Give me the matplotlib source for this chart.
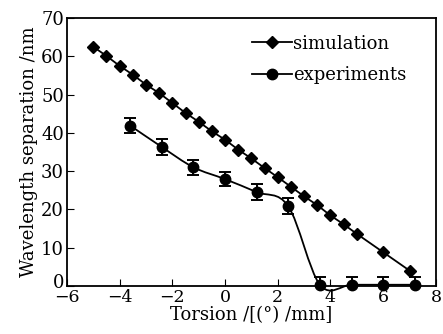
import numpy as np
import matplotlib

matplotlib.use("Agg")
import matplotlib.pyplot as plt
import matplotlib.transforms as mtransforms
from matplotlib.path import Path
from matplotlib.patches import PathPatch

# simulation (diamonds)
sim_x = [-5, -4.5, -4, -3.5, -3, -2.5, -2, -1.5, -1, -0.5, 0, 0.5, 1, 1.5,
         2, 2.5, 3, 3.5, 4, 4.5, 5, 6, 7]
sim_y = [62.5, 60.1, 57.5, 55.2, 52.6, 50.4, 47.8, 45.2, 42.9, 40.4, 38.2,
         35.6, 33.3, 30.8, 28.4, 25.9, 23.4, 21.1, 18.4, 16.1, 13.6, 8.8, 4.0]

# experiments (circles, with error bars)
exp_x = [-3.6, -2.4, -1.2, 0, 1.2, 2.4, 3.6, 4.8, 6.0, 7.2]
exp_y = [41.9, 36.3, 31.0, 27.9, 24.5, 20.8, 0.3, 0.3, 0.3, 0.3]
exp_err = [2.0, 2.0, 2.0, 1.9, 2.0, 2.1, 2.0, 2.0, 2.0, 2.0]


def smooth_path(x, y):
    # Catmull-Rom style bezier smoothing, like a spreadsheet "smoothed line"
    pts = np.column_stack([x, y]).astype(float)
    verts = [pts[0]]
    codes = [Path.MOVETO]
    n = len(pts)
    for i in range(n - 1):
        p0 = pts[i - 1] if i > 0 else pts[i]
        p1, p2 = pts[i], pts[i + 1]
        p3 = pts[i + 2] if i + 2 < n else pts[i + 1]
        verts += [p1 + (p2 - p0) / 6, p2 - (p3 - p1) / 6, p2]
        codes += [Path.CURVE4] * 3
    return Path(verts, codes)


plt.rcParams["font.family"] = "DejaVu Serif"

fig = plt.figure(figsize=(4.43, 3.34), dpi=100)
ax = fig.add_axes([0.151, 0.144, 0.833, 0.802])

ax.plot(sim_x, sim_y, color="black", lw=1.3, marker="D", ms=6.5,
        label="simulation")

ax.add_patch(PathPatch(smooth_path(exp_x, exp_y), fill=False,
                       edgecolor="black", lw=1.3, clip_on=False))
ax.errorbar(exp_x, exp_y, yerr=exp_err, fmt="none", ecolor="black",
            capsize=4.5, elinewidth=1.4, capthick=1.4)
ax.plot(exp_x, exp_y, ls="none", marker="o", color="black", ms=7.5,
        clip_on=False, zorder=4)
# legend handle for experiments (line + circle)
ax.plot([], [], color="black", lw=1.3, marker="o", ms=7.5,
        label="experiments")

ax.set_xlim(-6, 8)
ax.set_ylim(0, 70)
ax.set_xticks(range(-6, 9, 2))
ax.set_yticks(range(0, 71, 10))
ax.set_xticklabels(["\u22126", "\u22124", "\u22122", "0", "2", "4", "6", "8"])
ax.tick_params(direction="in", length=5, width=0.8, labelsize=13, pad=2)
ax.tick_params(axis="x", labelsize=12.5, pad=2)
for s in ax.spines.values():
    s.set_linewidth(1.3)

# lift the y "0" a little so it does not sit on the "-6"
lbl0 = ax.get_yticklabels()[0]
lbl0.set_transform(lbl0.get_transform() +
                   mtransforms.ScaledTranslation(0, 5 / 100, fig.dpi_scale_trans))

ax.set_xlabel("Torsion /[(\u00b0) /mm]", fontsize=13, labelpad=0)
ax.set_ylabel("Wavelength separation /nm", fontsize=13, labelpad=2)

ax.legend(loc="upper right", bbox_to_anchor=(0.955, 0.985), frameon=False,
          fontsize=13, handlelength=2.2, handletextpad=0.1,
          borderaxespad=0.3, labelspacing=0.75)

fig.savefig("out.png", dpi=100)
